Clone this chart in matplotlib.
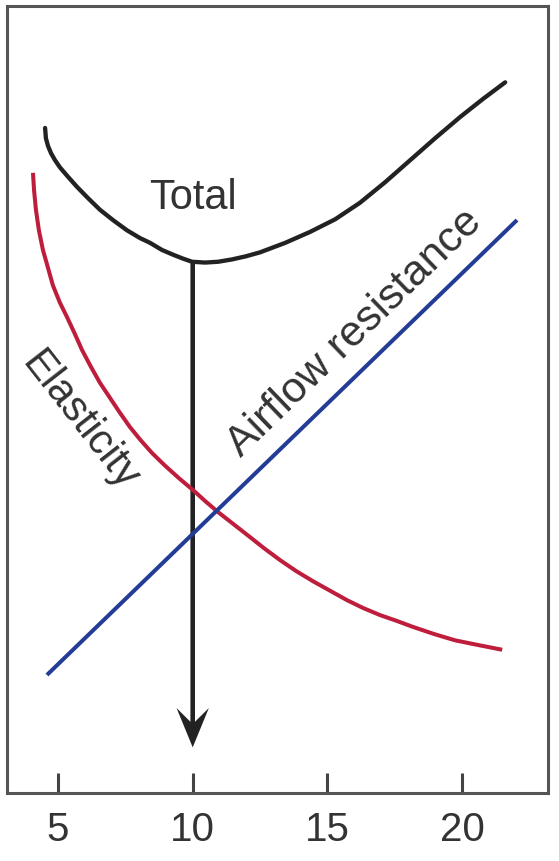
import numpy as np
import matplotlib.pyplot as plt

# x: breathing frequency, y: work (arbitrary units, 0-100)
xticks = [5, 10, 15, 20]

elastic_x = [4.07, 4.11, 4.18, 4.29, 4.44, 4.63, 4.81, 5.07, 5.33, 5.63, 5.89,
             6.23, 6.56, 6.93, 7.30, 7.67, 8.05, 8.49, 8.97, 9.49, 10.01,
             10.46, 10.94, 11.50, 12.06, 12.65, 13.24, 13.84, 14.47, 15.10,
             15.73, 16.33, 16.96, 17.55, 18.18, 18.96, 19.74, 20.60, 21.49]
elastic_y = [78.8, 76.6, 74.1, 71.5, 69.0, 66.7, 64.5, 62.3, 60.5, 58.3, 56.3,
             54.1, 52.1, 50.2, 48.3, 46.5, 44.9, 43.2, 41.6, 40.0, 38.5,
             37.1, 35.7, 34.2, 32.7, 31.1, 29.6, 28.2, 26.9, 25.7,
             24.5, 23.5, 22.6, 21.9, 21.1, 20.2, 19.4, 18.8, 18.2]

airflow_x = [4.59, 22.04]
airflow_y = [15.0, 72.8]

total_x = [4.52, 4.55, 4.63, 4.74, 4.89, 5.07, 5.37, 5.71, 6.11, 6.56, 7.04,
           7.56, 8.05, 8.42, 8.86, 9.27, 9.64, 9.98, 10.46, 10.94, 11.46,
           11.98, 12.50, 13.43, 14.36, 15.29, 16.21, 17.14, 18.07, 19.00,
           19.93, 20.78, 21.60]
total_y = [84.5, 83.2, 82.2, 81.3, 80.4, 79.5, 78.3, 77.0, 75.6, 74.1, 72.8,
           71.5, 70.5, 69.9, 69.0, 68.4, 67.9, 67.5, 67.4, 67.5, 67.8,
           68.2, 68.7, 69.9, 71.3, 72.9, 75.0, 77.6, 80.4, 83.2,
           85.9, 88.2, 90.3]

optimum_x = 10.0
arrow_tip = 5.8

plt.rcParams['font.family'] = ['Liberation Sans', 'DejaVu Sans']

fig = plt.figure(figsize=(5.59, 8.61), dpi=100)
ax = fig.add_axes([7 / 559, 68 / 861, 541 / 559, 787 / 861])

red = '#be1e3c'
blue = '#233c96'
dark = '#222222'

ax.plot(elastic_x, elastic_y, color=red, lw=2.9, solid_capstyle='butt',
        solid_joinstyle='round')
ax.plot(airflow_x, airflow_y, color=blue, lw=2.9, solid_capstyle='butt')
ax.plot(total_x, total_y, color=dark, lw=3.1, solid_capstyle='round',
        solid_joinstyle='round')

# arrow from the total curve at the optimum down towards the axis
y0 = float(np.interp(optimum_x, total_x, total_y))
ax.arrow(optimum_x, y0, 0, arrow_tip - y0, width=0.17, head_width=1.2,
         head_length=5.0, overhang=0.35, length_includes_head=True,
         color=dark, lw=0)

ax.text(10.0, 75.6, 'Total', fontsize=30, color='#333333',
        ha='center', va='center')
ax.text(5.8, 47.2, 'Elasticity', fontsize=30, color='#333333',
        ha='center', va='center', rotation=-52, rotation_mode='anchor')
ax.text(16.0, 58.4, 'Airflow resistance', fontsize=31, color='#333333',
        ha='center', va='center', rotation=44, rotation_mode='anchor')

ax.set_xlim(3.106, 23.19)
ax.set_ylim(0, 100)
ax.set_xticks(xticks)
ax.set_xticklabels([str(t) for t in xticks])
ax.set_yticks([])
ax.tick_params(axis='x', direction='in', length=14.4, width=2.2,
               color='#444444', labelsize=29, labelcolor='#333333', pad=13)
for s in ax.spines.values():
    s.set_linewidth(2.2)
    s.set_color('#555555')

fig.savefig('out.png', dpi=100)
